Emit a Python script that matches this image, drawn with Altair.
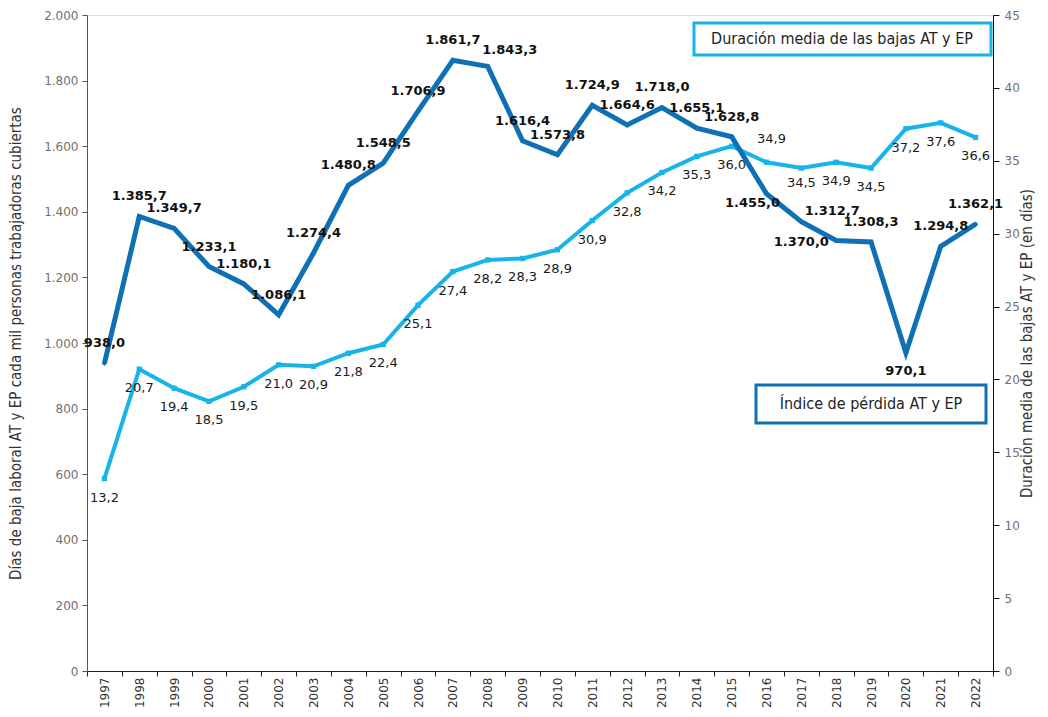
import altair as alt
import pandas as pd

years = list(range(1997, 2023))
indice = [938.0, 1385.7, 1349.7, 1233.1, 1180.1, 1086.1, 1274.4, 1480.8, 1548.5,
          1706.9, 1861.7, 1843.3, 1616.4, 1573.8, 1724.9, 1664.6, 1718.0, 1655.1,
          1628.8, 1455.0, 1370.0, 1312.7, 1308.3, 970.1, 1294.8, 1362.1]
duracion = [13.2, 20.7, 19.4, 18.5, 19.5, 21.0, 20.9, 21.8, 22.4, 25.1, 27.4, 28.2,
            28.3, 28.9, 30.9, 32.8, 34.2, 35.3, 36.0, 34.9, 34.5, 34.9, 34.5, 37.2,
            37.6, 36.6]

# label nudges (dx, dy) in pixels, keyed by year; others use the default
dark_default = (0, -20)
dark_nudges = {2008: (22, -16), 2016: (-14, 9), 2017: (0, 20), 2018: (-4, -29), 2020: (0, 18)}
light_default = (0, 19)
light_nudges = {2016: (5, -23), 2017: (0, 15)}

DARK = "#0f70b4"
LIGHT = "#18b4e9"
COND = "'DejaVu Sans Condensed', 'Roboto Condensed', Roboto, sans-serif"

df = pd.DataFrame({"year": years, "indice": indice, "duracion": duracion})

lab_expr = "replace(replace(replace(format(datum.{f}, ',.1f'), ',', '_'), '.', ','), '_', '.')"

x_enc = alt.X(
    "year:O",
    bandPosition=0.5,
    scale=alt.Scale(type="band", paddingInner=0, paddingOuter=0),
    axis=alt.Axis(
        title=None, tickBand="extent", labelAngle=270, labelFont="DejaVu Sans",
        labelFontSize=12, labelColor="#333333", labelPadding=1, tickSize=5,
        domainColor="#222222", tickColor="#222222", grid=False,
    ),
)

y_left = alt.Y(
    "indice:Q",
    scale=alt.Scale(domain=[0, 2000], nice=False, zero=True),
    axis=alt.Axis(
        orient="left", values=list(range(0, 2001, 200)),
        labelExpr="replace(format(datum.value, ','), ',', '.')",
        title="Días de baja laboral AT y EP cada mil personas trabajadoras cubiertas",
        titleFont=COND, titleFontSize=15, titleFontWeight="normal",
        titleColor="#333333", titlePadding=20,
        labelFont="DejaVu Sans", labelFontSize=12, labelColor="#707070",
        labelPadding=4, tickSize=5, domainColor="#555555", tickColor="#555555", grid=False,
    ),
)

y_right = alt.Y(
    "duracion:Q",
    scale=alt.Scale(domain=[0, 45], nice=False, zero=True),
    axis=alt.Axis(
        orient="right", values=list(range(0, 46, 5)),
        title="Duración media de las bajas AT y EP (en días)", titleAngle=270,
        titleFont=COND, titleFontSize=15, titleFontWeight="normal",
        titleColor="#333333", titlePadding=15,
        labelFont="DejaVu Sans", labelFontSize=12, labelColor="#707070",
        labelPadding=5, tickSize=6, domainColor="#111111", tickColor="#111111", grid=False,
    ),
)

base = alt.Chart(df)


def label_layers(field, y_enc, default, nudges, **style):
    groups = {}
    for yr in years:
        groups.setdefault(nudges.get(yr, default), []).append(yr)
    layers = []
    for (dx, dy), yrs in groups.items():
        layers.append(
            base.transform_calculate(lab=lab_expr.format(f=field))
            .transform_filter(alt.FieldOneOfPredicate(field="year", oneOf=yrs))
            .mark_text(dx=dx, dy=dy, **style)
            .encode(x=x_enc, y=y_enc, text="lab:N")
        )
    return layers


# Dark series (Índice de pérdida)
dark_line = base.mark_line(color=DARK, strokeWidth=5, strokeJoin="miter").encode(x=x_enc, y=y_left)
dark_pts = base.mark_point(shape="diamond", filled=True, size=30, color=DARK, opacity=1).encode(x=x_enc, y=y_left)
dark_labels = label_layers("indice", y_left, dark_default, dark_nudges,
                           font="DejaVu Sans", fontSize=13, fontWeight="bold", color="#111111")
dark_group = alt.layer(dark_line, dark_pts, *dark_labels)

# Light series (Duración media)
light_line = base.mark_line(color=LIGHT, strokeWidth=4).encode(x=x_enc, y=y_right)
light_pts = base.mark_point(shape="square", filled=True, size=28, color=LIGHT, opacity=1).encode(x=x_enc, y=y_right)
light_labels = label_layers("duracion", y_right, light_default, light_nudges,
                            font="DejaVu Sans", fontSize=13, color="#1a1a1a")
light_group = alt.layer(light_line, light_pts, *light_labels)

# Legend boxes
one = alt.Chart(pd.DataFrame({"t": [0]}))
box1 = one.mark_rect(fill="white", stroke=LIGHT, strokeWidth=3).encode(
    x=alt.value(607), x2=alt.value(904), y=alt.value(8), y2=alt.value(40))
box1_t = one.mark_text(font=COND, fontSize=16, color="#222222").encode(
    x=alt.value(755), y=alt.value(24), text=alt.value("Duración media de las bajas AT y EP"))
box2 = one.mark_rect(fill="white", stroke=DARK, strokeWidth=3).encode(
    x=alt.value(669), x2=alt.value(899), y=alt.value(370), y2=alt.value(408))
box2_t = one.mark_text(font=COND, fontSize=16, color="#222222").encode(
    x=alt.value(784), y=alt.value(389), text=alt.value("Índice de pérdida AT y EP"))

chart = alt.layer(light_group, dark_group).resolve_scale(y="independent")
chart = alt.layer(chart, box1, box1_t, box2, box2_t).properties(
    width=906, height=656,
    autosize=alt.AutoSizeParams(type="none"),
    padding={"left": 79, "top": 7, "right": 46, "bottom": 38},
).configure_view(stroke=None).configure(background="white")

chart.save("out.html", embed_options={"renderer": "svg", "actions": False})
